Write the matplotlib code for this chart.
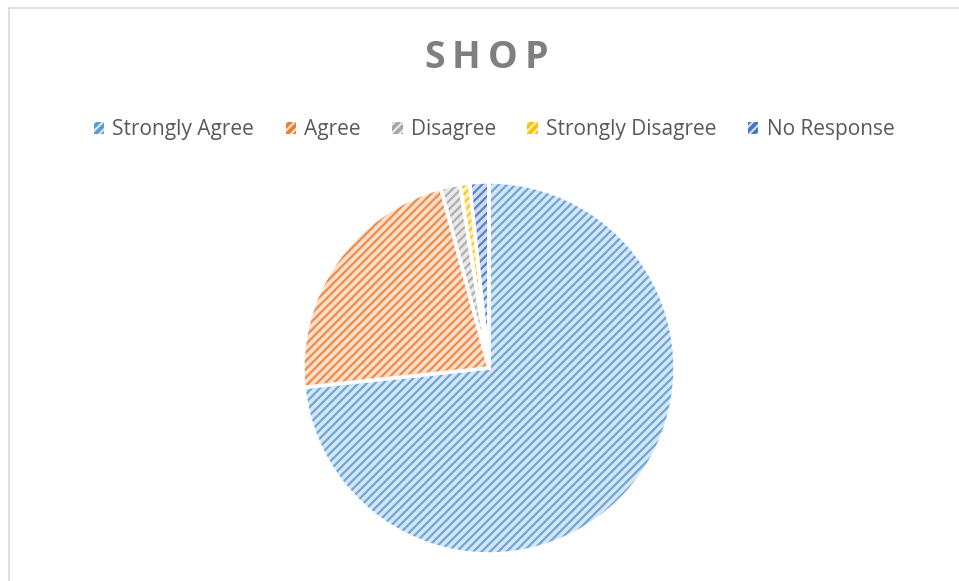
import matplotlib
matplotlib.use("Agg")
import matplotlib.pyplot as plt
from matplotlib.patches import Patch
from matplotlib.lines import Line2D
from matplotlib.colors import to_rgb

categories = ["Strongly Agree", "Agree", "Disagree", "Strongly Disagree", "No Response"]
values = [88, 27, 2, 1, 2]
title = "SHOP"

colors = ["#5B9BD5", "#ED7D31", "#A5A5A5", "#FFC000", "#4472C4"]

def tint(c, f=0.75):
    r, g, b = to_rgb(c)
    return (r + (1 - r) * f, g + (1 - g) * f, b + (1 - b) * f)

light = [tint(c) for c in colors]

plt.rcParams["font.family"] = ["Open Sans", "DejaVu Sans"]
plt.rcParams["hatch.linewidth"] = 1.6

W, H = 959, 581
fig = plt.figure(figsize=(W / 100, H / 100), dpi=100)
fig.patch.set_facecolor("white")

cx, cy, r = 489, 368, 186
ax = fig.add_axes([(cx - r) / W, 1 - (cy + r) / H, 2 * r / W, 2 * r / H])
ax.set_aspect("equal")
ax.axis("off")

# base fill
w1, _ = ax.pie(values, colors=light, startangle=90, counterclock=False,
               wedgeprops=dict(linewidth=0))
# hatch layer
w2, _ = ax.pie(values, colors=["none"] * 5, startangle=90, counterclock=False,
               wedgeprops=dict(linewidth=0))
for w, c in zip(w2, colors):
    w.set_hatch("////")
    w.set_edgecolor(c)
    w.set_facecolor("none")
    w.set_linewidth(0)
    w.set_alpha(0.85)
# white separators
w3, _ = ax.pie(values, colors=["none"] * 5, startangle=90, counterclock=False,
               wedgeprops=dict(linewidth=2.5, edgecolor="white"))
for w in w3:
    w.set_facecolor("none")
ax.set_xlim(-1.0, 1.0)
ax.set_ylim(-1.0, 1.0)

# title with letter spacing
renderer = fig.canvas.get_renderer()
tkw = dict(fontsize=27, fontweight="bold", color="#7F7F7F", va="center", ha="left")
spacing = 7
letters = []
widths = []
for ch in title:
    t = fig.text(0, 0, ch, **tkw)
    widths.append(t.get_window_extent(renderer).width)
    letters.append(t)
total = sum(widths) + spacing * (len(title) - 1)
x = 486 - total / 2
for t, wd in zip(letters, widths):
    t.set_position((x / W, 1 - 58 / H))
    x += wd + spacing

# legend
handles = []
for c, lc in zip(colors, light):
    handles.append(Patch(facecolor=c, edgecolor=lc, hatch="////", linewidth=0))
leg = fig.legend(handles, categories, loc="center", bbox_to_anchor=(494 / W, 1 - 130 / H),
                 ncol=5, frameon=False, fontsize=15, handlelength=0.5, handleheight=0.5,
                 handletextpad=0.4, columnspacing=1.5, labelcolor="#595959")

# chart border (top and left)
fig.add_artist(Line2D([8.5 / W, 1.0], [1 - 7.5 / H, 1 - 7.5 / H], transform=fig.transFigure,
                      color="#D9D9D9", linewidth=1.2))
fig.add_artist(Line2D([8.5 / W, 8.5 / W], [0, 1 - 7.5 / H], transform=fig.transFigure,
                      color="#D9D9D9", linewidth=1.2))

fig.savefig("out.png", dpi=100, facecolor="white")
